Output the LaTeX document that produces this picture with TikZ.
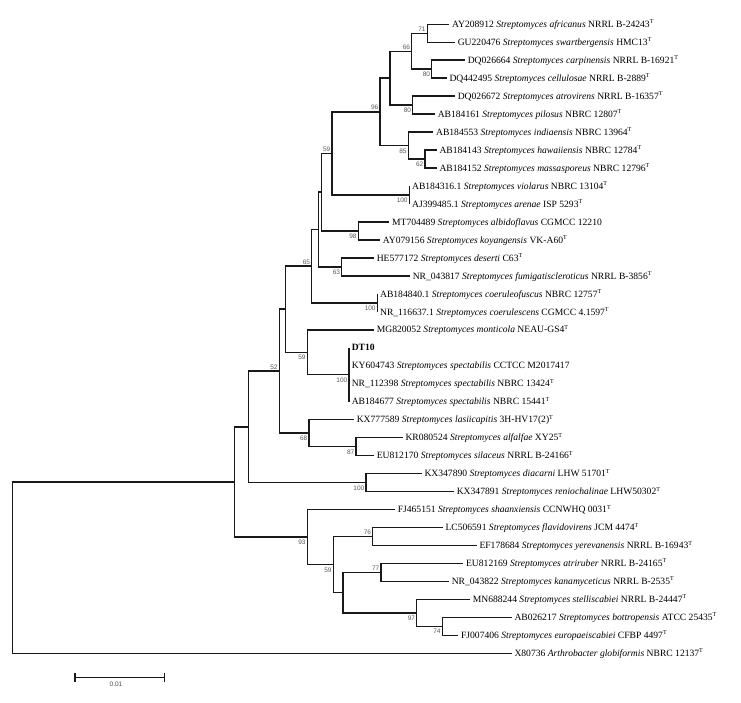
\documentclass[tikz,border=0pt]{standalone}
\usepackage{fontspec}
\setmainfont{Liberation Serif}
\newfontfamily\bsfont{Liberation Sans}
\newcommand\strep[1]{\textit{Streptomyces #1}}
\newcommand\typ{\textsuperscript{\fontsize{6}{6}\selectfont T}}
\begin{document}
\begin{tikzpicture}[x=1pt,y=-1pt,
  branch/.style={line width=1.5pt, black!90},
  leaf/.style={anchor=west, inner xsep=2.6pt, inner ysep=0pt, text height=6.4pt, text depth=0pt, font=\fontsize{9.6}{11}\selectfont},
  bsup/.style={anchor=south east, inner sep=0pt, text height=4.7pt, text depth=0pt, font=\bsfont\fontsize{6.5}{7}\selectfont, text=black!65, xshift=-1.5pt, yshift=1.8pt},
  bsdn/.style={anchor=north east, inner sep=0pt, text height=4.7pt, text depth=0pt, font=\bsfont\fontsize{6.5}{7}\selectfont, text=black!65, xshift=-1.5pt, yshift=-2.6pt}]
\fill[white] (0,0) rectangle (741,702);
\useasboundingbox (0,0) rectangle (741,702);

% leaves
\node[leaf] (l0)  at (449.3,24.30)  {AY208912 \strep{africanus} NRRL B-24243\typ};
\node[leaf] (l1)  at (455.0,42.27)  {GU220476 \strep{swartbergensis} HMC13\typ};
\node[leaf] (l2)  at (465.0,60.24)  {DQ026664 \strep{carpinensis} NRRL B-16921\typ};
\node[leaf] (l3)  at (446.7,78.21)  {DQ442495 \strep{cellulosae} NRRL B-2889\typ};
\node[leaf] (l4)  at (455.0,96.18)  {DQ026672 \strep{atrovirens} NRRL B-16357\typ};
\node[leaf] (l5)  at (435.0,114.15) {AB184161 \strep{pilosus} NBRC 12807\typ};
\node[leaf] (l6)  at (433.3,132.12) {AB184553 \strep{indiaensis} NBRC 13964\typ};
\node[leaf] (l7)  at (436.7,150.09) {AB184143 \strep{hawaiiensis} NBRC 12784\typ};
\node[leaf] (l8)  at (436.7,168.06) {AB184152 \strep{massasporeus} NBRC 12796\typ};
\node[leaf] (l9)  at (409.3,186.03) {AB184316.1 \strep{violarus} NBRC 13104\typ};
\node[leaf] (l10) at (409.3,204.00) {AJ399485.1 \strep{arenae} ISP 5293\typ};
\node[leaf] (l11) at (389.3,221.97) {MT704489 \strep{albidoflavus} CGMCC 12210};
\node[leaf] (l12) at (380.0,239.94) {AY079156 \strep{koyangensis} VK-A60\typ};
\node[leaf] (l13) at (374.0,257.91) {HE577172 \strep{deserti} C63\typ};
\node[leaf] (l14) at (410.0,275.88) {NR\_043817 \strep{fumigatiscleroticus} NRRL B-3856\typ};
\node[leaf] (l15) at (377.3,293.85) {AB184840.1 \strep{coeruleofuscus} NBRC 12757\typ};
\node[leaf] (l16) at (377.3,311.82) {NR\_116637.1 \strep{coerulescens} CGMCC 4.1597\typ};
\node[leaf] (l17) at (374.0,329.79) {MG820052 \strep{monticola} NEAU-GS4\typ};
\node[leaf] (l18) at (349.0,347.76) {\textbf{DT10}};
\node[leaf] (l19) at (349.0,365.73) {KY604743 \strep{spectabilis} CCTCC M2017417};
\node[leaf] (l20) at (349.0,383.70) {NR\_112398 \strep{spectabilis} NBRC 13424\typ};
\node[leaf] (l21) at (349.0,401.67) {AB184677 \strep{spectabilis} NBRC 15441\typ};
\node[leaf] (l22) at (354.0,419.64) {KX777589 \strep{lasiicapitis} 3H-HV17(2)\typ};
\node[leaf] (l23) at (402.7,437.61) {KR080524 \strep{alfalfae} XY25\typ};
\node[leaf] (l24) at (374.0,455.58) {EU812170 \strep{silaceus} NRRL B-24166\typ};
\node[leaf] (l25) at (421.7,473.55) {KX347890 \strep{diacarni} LHW 51701\typ};
\node[leaf] (l26) at (454.0,491.52) {KX347891 \strep{reniochalinae} LHW50302\typ};
\node[leaf] (l27) at (395.0,509.49) {FJ465151 \strep{shaanxiensis} CCNWHQ 0031\typ};
\node[leaf] (l28) at (442.7,527.46) {LC506591 \strep{flavidovirens} JCM 4474\typ};
\node[leaf] (l29) at (476.7,545.43) {EF178684 \strep{yerevanensis} NRRL B-16943\typ};
\node[leaf] (l30) at (463.3,563.40) {EU812169 \strep{atriruber} NRRL B-24165\typ};
\node[leaf] (l31) at (449.0,581.37) {NR\_043822 \strep{kanamyceticus} NRRL B-2535\typ};
\node[leaf] (l32) at (470.0,599.34) {MN688244 \strep{stelliscabiei} NRRL B-24447\typ};
\node[leaf] (l33) at (511.7,617.31) {AB026217 \strep{bottropensis} ATCC 25435\typ};
\node[leaf] (l34) at (458.3,635.28) {FJ007406 \strep{europaeiscabiei} CFBP 4497\typ};
\node[leaf] (l35) at (511.7,653.25) {X80736 \textit{Arthrobacter globiformis} NBRC 12137\typ};

% internal nodes
\coordinate (n71)   at (427.3,33.29);
\coordinate (n80a)  at (431.7,69.23);
\coordinate (n66)   at (411.7,51.26);
\coordinate (n80b)  at (412.7,105.17);
\coordinate (nJ)    at (390.0,78.21);
\coordinate (n62)   at (425.0,159.08);
\coordinate (n85)   at (408.3,145.60);
\coordinate (n96)   at (380.0,111.90);
\coordinate (n100a) at (409.3,195.02);
\coordinate (nH)    at (332.0,153.46);
\coordinate (n98)   at (358.3,230.96);
\coordinate (nG)    at (321.7,192.21);
\coordinate (n63)   at (341.7,266.90);
\coordinate (nF)    at (318.3,229.55);
\coordinate (n100b) at (377.3,302.84);
\coordinate (nE)    at (311.7,266.19);
\coordinate (n100c) at (349.0,374.72);
\coordinate (n59b)  at (307.3,352.25);
\coordinate (nD)    at (285.7,309.22);
\coordinate (n87)   at (356.0,446.60);
\coordinate (n68)   at (309.0,433.12);
\coordinate (nC)    at (279.3,371.17);
\coordinate (n100d) at (366.0,482.54);
\coordinate (nB)    at (248.3,426.85);
\coordinate (n76)   at (372.7,536.45);
\coordinate (n77)   at (381.0,572.39);
\coordinate (n74)   at (442.3,626.30);
\coordinate (n97)   at (416.7,612.82);
\coordinate (nK)    at (343.0,592.60);
\coordinate (n59c)  at (333.3,564.52);
\coordinate (n93)   at (307.3,537.00);
\coordinate (nA)    at (234.3,481.93);
\coordinate (root)  at (12.3,567.59);

% branches
\foreach \p/\c in {root/nA, root/l35.west, nA/nB, nA/n93, nB/nC, nB/n100d,
  nC/nD, nC/n68, nD/nE, nD/n59b, nE/nF, nE/n100b, nF/nG, nF/n63, nG/nH, nG/n98,
  nH/n96, nH/n100a, n96/nJ, n96/n85, nJ/n66, nJ/n80b, n66/n71, n66/n80a,
  n71/l0.west, n71/l1.west, n80a/l2.west, n80a/l3.west, n80b/l4.west, n80b/l5.west,
  n85/l6.west, n85/n62, n62/l7.west, n62/l8.west, n100a/l9.west, n100a/l10.west,
  n98/l11.west, n98/l12.west, n63/l13.west, n63/l14.west, n100b/l15.west, n100b/l16.west,
  n59b/l17.west, n59b/n100c, n100c/l18.west, n100c/l19.west, n100c/l20.west, n100c/l21.west,
  n68/l22.west, n68/n87, n87/l23.west, n87/l24.west, n100d/l25.west, n100d/l26.west,
  n93/l27.west, n93/n59c, n59c/n76, n59c/nK, n76/l28.west, n76/l29.west,
  nK/n77, nK/n97, n77/l30.west, n77/l31.west, n97/l32.west, n97/n74, n74/l33.west, n74/l34.west}
  \draw[branch] (\p) |- (\c);

% bootstrap values
\node[bsup] (b71)   at (n71)   {71};
\node[bsdn] (b80a)  at (n80a)  {80};
\node[bsup] (b66)   at (n66)   {66};
\node[bsdn] (b80b)  at (n80b)  {80};
\node[bsdn] (b62)   at (n62)   {62};
\node[bsdn] (b85)   at (n85)   {85};
\node[bsup] (b96)   at (n96)   {96};
\node[bsdn] (b100a) at (n100a) {100};
\node[bsup] (bH)    at (nH)    {59};
\node[bsdn] (b98)   at (n98)   {98};
\node[bsdn] (b63)   at (n63)   {63};
\node[bsdn] (b100b) at (n100b) {100};
\node[bsup] (bE)    at (nE)    {65};
\node[bsdn] (b100c) at (n100c) {100};
\node[bsdn] (b59b)  at (n59b)  {59};
\node[bsup] (bC)    at (nC)    {52};
\node[bsdn] (b68)   at (n68)   {68};
\node[bsdn] (b87)   at (n87)   {87};
\node[bsdn] (b100d) at (n100d) {100};
\node[bsdn] (b93)   at (n93)   {93};
\node[bsup] (b76)   at (n76)   {76};
\node[bsdn] (b59c)  at (n59c)  {59};
\node[bsup] (b77)   at (n77)   {77};
\node[bsdn] (b97)   at (n97)   {97};
\node[bsdn] (b74)   at (n74)   {74};

% scale bar
\coordinate (sbL) at (75.0,677.3);
\coordinate (sbR) at (164.3,677.3);
\draw[branch] (sbL) -- (sbR);
\draw[branch] ([yshift=4.5pt]sbL) -- ([yshift=-4.5pt]sbL);
\draw[branch] ([yshift=4.5pt]sbR) -- ([yshift=-4.5pt]sbR);
\node[inner sep=0pt, font=\bsfont\fontsize{6.5}{7}\selectfont, text=black!70, anchor=north] (sblab) at (116,682) {0.01};
\end{tikzpicture}
\end{document}
